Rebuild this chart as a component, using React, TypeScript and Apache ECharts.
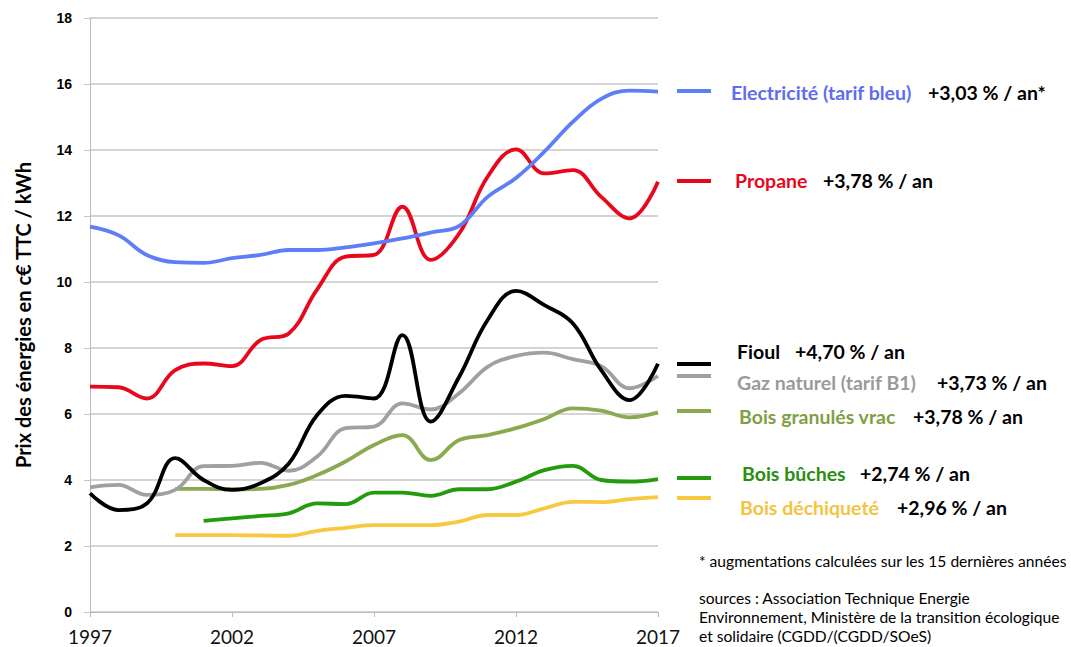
import React, { useEffect, useRef } from "react";
import * as echarts from "echarts";

const years = ["1997","1998","1999","2000","2001","2002","2003","2004","2005","2006","2007","2008","2009","2010","2011","2012","2013","2014","2015","2016","2017"];
const yTicks = [0, 2, 4, 6, 8, 10, 12, 14, 16, 18];

const electricite = [11.68, 11.42, 10.82, 10.6, 10.58, 10.72, 10.82, 10.97, 10.97, 11.05, 11.17, 11.32, 11.5, 11.7, 12.58, 13.15, 13.95, 14.85, 15.55, 15.8, 15.77];
const propane = [6.83, 6.81, 6.47, 7.33, 7.53, 7.45, 8.24, 8.44, 9.78, 10.77, 10.82, 12.28, 10.67, 11.47, 13.19, 14.02, 13.29, 13.39, 12.58, 11.93, 13.04];
const fioul = [3.6, 3.09, 3.29, 4.66, 4.0, 3.7, 3.9, 4.5, 5.97, 6.55, 6.47, 8.39, 5.77, 7.13, 8.85, 9.73, 9.3, 8.75, 7.33, 6.42, 7.52];
const gaz = [3.78, 3.85, 3.55, 3.7, 4.42, 4.43, 4.52, 4.28, 4.71, 5.57, 5.62, 6.32, 6.14, 6.63, 7.43, 7.76, 7.86, 7.66, 7.45, 6.78, 7.15];
const granules = [null, null, null, 3.73, 3.73, 3.72, 3.73, 3.85, 4.15, 4.56, 5.06, 5.36, 4.6, 5.21, 5.36, 5.57, 5.85, 6.17, 6.1, 5.9, 6.05];
const buches = [null, null, null, null, 2.76, 2.84, 2.91, 2.99, 3.29, 3.27, 3.62, 3.62, 3.52, 3.72, 3.72, 3.95, 4.3, 4.43, 4.0, 3.95, 4.03];
const dechiquete = [null, null, null, 2.33, 2.33, 2.33, 2.32, 2.31, 2.46, 2.55, 2.63, 2.63, 2.63, 2.74, 2.94, 2.94, 3.14, 3.34, 3.33, 3.42, 3.48];

const seriesNames = ["Electricité (tarif bleu)", "Propane", "Fioul", "Gaz naturel (tarif B1)", "Bois granulés vrac", "Bois bûches", "Bois déchiqueté"];
const rates = ["+3,03 % / an*", "+3,78 % / an", "+4,70 % / an", "+3,73 % / an", "+3,78 % / an", "+2,74 % / an", "+2,96 % / an"];
const footnote = "* augmentations calculées sur les 15 dernières années";
const sources = ["sources : Association Technique Energie", "Environnement, Ministère de la transition écologique", "et solidaire (CGDD/(CGDD/SOeS)"];
const yTitle = "Prix des énergies en c€ TTC / kWh";

const lineColors = ["#5E7EF8", "#E8081E", "#000000", "#A0A0A0", "#8AAA50", "#239B0C", "#F7C940"];
const textColors = ["#5F6CF0", "#E8081E", "#000000", "#9A9A9A", "#7F9F45", "#2A8E10", "#F2C43F"];

// legend layout: [lineY, nameX, textY, rateX]
const legendLayout = [
  [91, 731, 92, 928],
  [181, 735, 180, 823],
  [364, 737, 351, 795],
  [376, 737, 382, 937],
  [411, 739, 416, 913],
  [478, 742, 473, 860],
  [498, 740, 507, 897],
];

export default function App() {
  const ref = useRef<HTMLDivElement>(null);
  useEffect(() => {
    const chart = echarts.init(ref.current!, null, { renderer: "svg" });
    const data = [electricite, propane, fioul, gaz, granules, buches, dechiquete];
    const graphics: any[] = [];
    legendLayout.forEach((l, i) => {
      graphics.push({
        type: "line",
        shape: { x1: 677, y1: l[0], x2: 711, y2: l[0] },
        style: { stroke: lineColors[i], lineWidth: 4 },
      });
      graphics.push({
        type: "text",
        x: l[1],
        y: l[2],
        style: { text: seriesNames[i], fill: textColors[i], font: "bold 19.5px Lato", verticalAlign: "middle", align: "left" },
      });
      graphics.push({
        type: "text",
        x: l[3],
        y: l[2],
        style: { text: rates[i], fill: "#000", font: "bold 19.5px Lato", verticalAlign: "middle", align: "left" },
      });
    });
    graphics.push({
      type: "text", x: 699, y: 561,
      style: { text: footnote, fill: "#000", font: "15.6px Lato", verticalAlign: "middle" },
    });
    sources.forEach((s, i) => {
      graphics.push({
        type: "text", x: 699, y: 598 + i * 19,
        style: { text: s, fill: "#000", font: "15.6px Lato", verticalAlign: "middle" },
      });
    });
    graphics.push({
      type: "text", x: 23, y: 315, rotation: Math.PI / 2,
      style: { text: yTitle, fill: "#000", font: "bold 20px Lato", verticalAlign: "middle", align: "center" },
    });

    chart.setOption({
      animation: false,
      grid: { left: 90, right: 413, top: 18, bottom: 35, containLabel: false },
      xAxis: {
        type: "category",
        data: years,
        boundaryGap: false,
        axisLine: { lineStyle: { color: "#BBBBBB", width: 1 } },
        axisTick: { show: true, interval: 4, length: 5, lineStyle: { color: "#BBBBBB" } },
        axisLabel: { interval: 4, color: "#111", fontFamily: "Lato", fontSize: 19, margin: 15 },
        splitLine: { show: false },
      },
      yAxis: {
        type: "value",
        min: yTicks[0],
        max: yTicks[yTicks.length - 1],
        interval: 2,
        axisLine: { show: true, lineStyle: { color: "#BBBBBB", width: 1 } },
        axisTick: { show: true, length: 6, lineStyle: { color: "#C6C6C6" } },
        axisLabel: { color: "#000", fontFamily: "Liberation Sans", fontWeight: "bold", fontSize: 14, margin: 18 },
        splitLine: { lineStyle: { color: "#C6C6C6", width: 1.5 } },
      },
      series: data.map((d, i) => ({
        name: seriesNames[i],
        type: "line",
        data: d,
        smooth: 0.4,
        showSymbol: false,
        symbol: "none",
        connectNulls: false,
        lineStyle: { color: lineColors[i], width: 3.8 },
        z: 10 - i,
      })),
      graphic: graphics,
    });
    return () => chart.dispose();
  }, []);
  return <div ref={ref} style={{ width: 1071, height: 647, position: "absolute", left: 0, top: 0 }} />;
}
